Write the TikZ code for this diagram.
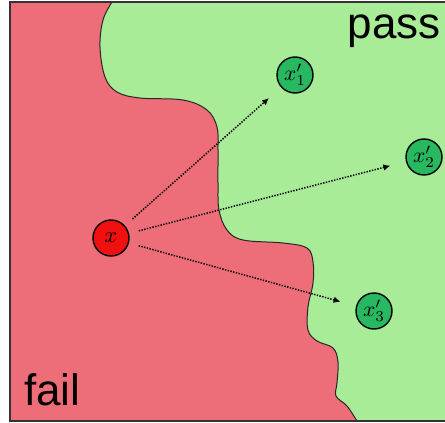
\documentclass[tikz,border=0pt]{standalone}
\usepackage{fontspec}
\usepackage{graphicx}
\setsansfont{Liberation Sans}
\usetikzlibrary{arrows.meta}
\definecolor{failbg}{RGB}{237,110,120}
\definecolor{passbg}{RGB}{168,236,152}
\definecolor{rednode}{RGB}{240,16,16}
\definecolor{greennode}{RGB}{40,184,96}
\newcommand{\ptlab}[2]{\resizebox{#1}{!}{$#2$}}
\tikzset{
  pt/.style={circle, draw=black, line width=1.4pt, minimum size=36pt, inner sep=0pt},
  failpt/.style={pt, fill=rednode},
  passpt/.style={pt, fill=greennode},
  probe/.style={line width=1.5pt, dash pattern=on 1.4pt off 1.4pt, -{Latex[length=7pt,width=6.5pt]}, shorten <=10pt, shorten >=16pt},
  big/.style={font=\sffamily\fontsize{44}{44}\selectfont, inner sep=0pt}
}
\begin{document}
\begin{tikzpicture}[x=1pt,y=-1pt]
\useasboundingbox (0,0) rectangle (445,423);
\clip (0,0) rectangle (445,423);
% regions
\fill[passbg] (10,2) rectangle (460,421);
\fill[failbg] (10,2) -- (112,2)
  -- plot[smooth, tension=0.6] coordinates {(112,2) (103,20) (100,47) (105,77) (117,92) (140,98) (183,100) (207,110) (217,127) (218,150) (218,183) (219,210) (227,230) (243,240) (283,243) (307,248) (313,262) (313,283) (308,307) (308,330) (317,341) (333,348) (338,362) (337,383) (336,396) (347,406) (357,421)}
  -- (10,421) -- cycle;
\draw[line width=1pt, black!85] plot[smooth, tension=0.6] coordinates {(112,2) (103,20) (100,47) (105,77) (117,92) (140,98) (183,100) (207,110) (217,127) (218,150) (218,183) (219,210) (227,230) (243,240) (283,243) (307,248) (313,262) (313,283) (308,307) (308,330) (317,341) (333,348) (338,362) (337,383) (336,396) (347,406) (357,421)};
\draw[line width=1.3pt, black!80] (10,2) rectangle (460,421);
% labels
\node[big, anchor=base east] (pass) at (441,38) {pass};
\node[big, anchor=base west] (fail) at (24,405) {fail};
% points
\node[failpt] (x) at (111,238) {\ptlab{13pt}{x}};
\node[passpt] (x1) at (295,75) {\ptlab{22pt}{x'_1}};
\node[passpt] (x2) at (424,157) {\ptlab{22pt}{x'_2}};
\node[passpt] (x3) at (374,311) {\ptlab{22pt}{x'_3}};
% arrows
\draw[probe] (x) -- (x1);
\draw[probe] (x) -- (x2);
\draw[probe] (x) -- (x3);
\end{tikzpicture}
\end{document}
